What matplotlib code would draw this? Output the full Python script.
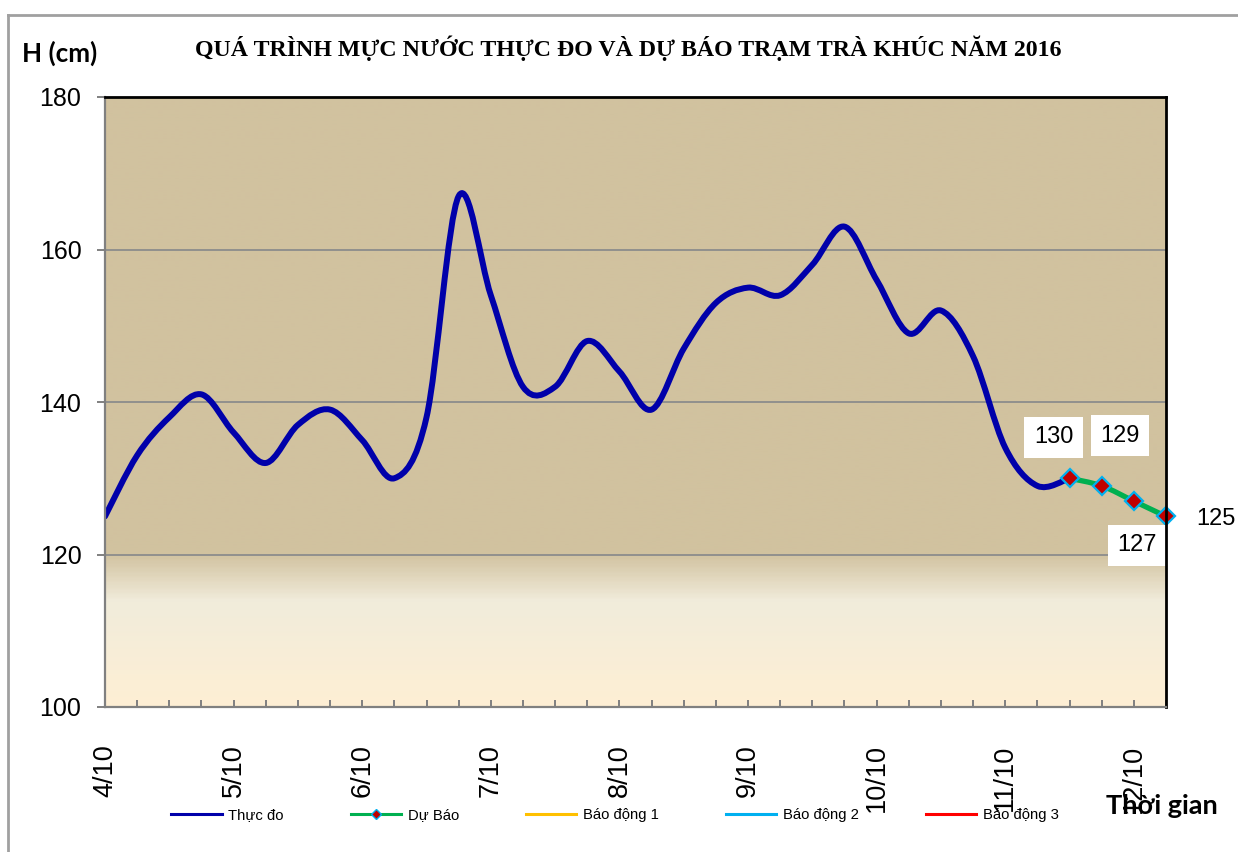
import numpy as np
import matplotlib
matplotlib.use("Agg")
import matplotlib.pyplot as plt
from matplotlib.path import Path
from matplotlib.patches import PathPatch
from matplotlib.lines import Line2D
from matplotlib.colors import LinearSegmentedColormap

# ---------------- data ----------------
day_labels = ["4/10", "5/10", "6/10", "7/10", "8/10", "9/10", "10/10", "11/10", "12/10"]
steps_per_day = 4  # 6-hourly observations
thuc_do = [125, 133, 138, 141, 136, 132, 137, 139, 135, 130,
           138, 167, 154, 142, 142, 148, 144, 139, 147, 153,
           155, 154, 158, 163, 156, 149, 152, 146, 134, 129, 130]
du_bao_start = 30
du_bao = [130, 129, 127, 125]
n_total = 34

title = "QUÁ TRÌNH MỰC NƯỚC THỰC ĐO VÀ DỰ BÁO TRẠM TRÀ KHÚC NĂM 2016"
legend_labels = ["Thực đo", "Dự Báo", "Báo động 1", "Báo động 2", "Báo động 3"]

# ---------------- style ----------------
SANS = ["Liberation Sans", "DejaVu Sans"]
plt.rcParams["font.family"] = SANS

W, H = 1238, 852
fig = plt.figure(figsize=(W / 100, H / 100), dpi=100)
ax = fig.add_axes([105 / W, 1 - 707 / H, (1166 - 105) / W, (707 - 97) / H])

x_max = n_total - 1
ax.set_xlim(0, x_max)
ax.set_ylim(100, 180)

# gradient background
tan = np.array([209, 194, 159]) / 255
pale = np.array([241, 236, 219]) / 255
cream = np.array([254, 239, 212]) / 255
cmap = LinearSegmentedColormap.from_list(
    "bg", [(0.0, cream), (13.7 / 80, pale), (20 / 80, tan), (1.0, tan)])
grad = np.linspace(0, 1, 400).reshape(-1, 1)
ax.imshow(grad, extent=[0, x_max, 100, 180], origin="lower", aspect="auto",
          cmap=cmap, zorder=0, interpolation="bilinear")

# grid
for v in [120, 140, 160]:
    ax.axhline(v, color="#8C8C8C", lw=1.3, zorder=1)


def smooth_path(xs, ys):
    pts = np.column_stack([xs, ys]).astype(float)
    n = len(pts)
    verts = [pts[0]]
    codes = [Path.MOVETO]
    for i in range(n - 1):
        p0 = pts[max(i - 1, 0)]
        p1 = pts[i]
        p2 = pts[i + 1]
        p3 = pts[min(i + 2, n - 1)]
        c1 = p1 + (p2 - p0) / 6.0
        c2 = p2 - (p3 - p1) / 6.0
        verts += [c1, c2, p2]
        codes += [Path.CURVE4] * 3
    return Path(verts, codes)


blue = "#0000AA"
green = "#00B050"
x_obs = np.arange(len(thuc_do))
ax.add_patch(PathPatch(smooth_path(x_obs, thuc_do), fill=False, ec=blue,
                       lw=4.3, zorder=3, capstyle="round", joinstyle="round"))
x_fc = np.arange(du_bao_start, du_bao_start + len(du_bao))
ax.add_patch(PathPatch(smooth_path(x_fc, du_bao), fill=False, ec=green,
                       lw=3.8, zorder=4, capstyle="round"))
ax.plot(x_fc, du_bao, ls="none", marker="D", ms=9.5, mfc="#C00000",
        mec="#00B0F0", mew=1.6, zorder=5, clip_on=False)

# data labels
offsets = [(-16, 41), (18, 50), (3, -44), (50, -3)]
for xv, yv, off in zip(x_fc, du_bao, offsets):
    ax.annotate(str(yv), (xv, yv), xytext=off, textcoords="offset pixels",
                ha="center", va="center", fontsize=17, zorder=6,
                bbox=dict(boxstyle="square,pad=0.4", fc="white", ec="none"),
                annotation_clip=False)

# axes styling
for s in ["left", "bottom"]:
    ax.spines[s].set_color("#808080")
    ax.spines[s].set_linewidth(1.6)
for s in ["top", "right"]:
    ax.spines[s].set_color("black")
    ax.spines[s].set_linewidth(2.0)
for s in ax.spines.values():
    s.set_zorder(7)

ax.set_yticks([100, 120, 140, 160, 180])
ax.tick_params(axis="y", direction="out", length=6, width=1.4, color="#808080",
               pad=11, labelsize=18)
ax.set_xticks(np.arange(0, n_total, steps_per_day))
ax.set_xticklabels(day_labels, rotation=90, fontsize=19.5)
ax.set_xticks(np.arange(0, n_total), minor=True)
ax.tick_params(axis="x", which="both", direction="in", length=5, width=1.4,
               color="#808080")
ax.tick_params(axis="x", which="major", pad=27)

# texts
fig.text(628 / W, 1 - 48 / H, title, ha="center", va="center",
         fontsize=17.2, fontweight="bold", family=["Liberation Serif", "DejaVu Serif"])
fig.text(22 / W, 1 - 53 / H, "H (cm)", ha="left", va="center",
         fontsize=18.8, fontweight="bold", family=["Lato", "Liberation Sans", "DejaVu Sans"])
fig.text(1106 / W, 1 - 806 / H, "Thời gian", ha="left", va="center",
         fontsize=19.5, fontweight="bold", family=["Lato", "Liberation Sans", "DejaVu Sans"])

# legend
handles = [
    Line2D([], [], color=blue, lw=2.2),
    Line2D([], [], color=green, lw=2.2, marker="D", ms=5, mfc="#C00000", mec="#00B0F0"),
    Line2D([], [], color="#FFC000", lw=2.2),
    Line2D([], [], color="#00B0F0", lw=2.2),
    Line2D([], [], color="#FF0000", lw=2.2),
]
fig.legend(handles, legend_labels, loc="center left", bbox_to_anchor=(171 / W, 1 - 815 / H),
           ncol=5, frameon=False, fontsize=10.7, handlelength=3.4, handletextpad=0.45,
           columnspacing=4.5, borderpad=0, borderaxespad=0)

# outer chart frame (partly cropped)
fig.add_artist(Line2D([8 / W, 8 / W], [-0.1, 1 - 15 / H], color="#A0A0A0", lw=2,
                      transform=fig.transFigure))
fig.add_artist(Line2D([8 / W, 1.1], [1 - 15 / H, 1 - 15 / H], color="#A0A0A0", lw=2,
                      transform=fig.transFigure))

fig.savefig("out.png", dpi=100, facecolor="white")
